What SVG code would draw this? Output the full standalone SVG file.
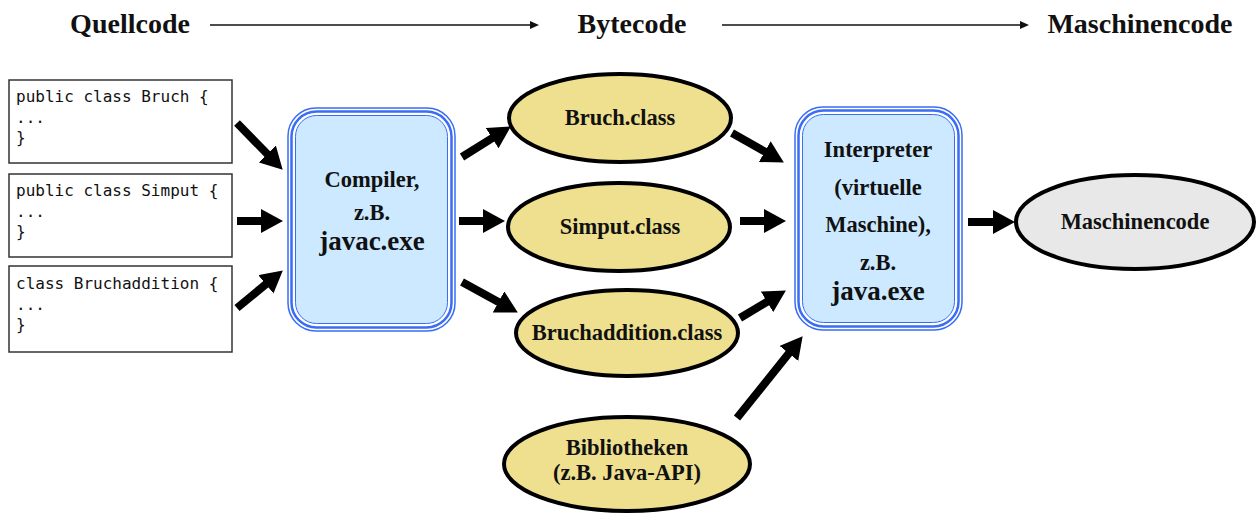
<svg xmlns="http://www.w3.org/2000/svg" width="1258" height="518" viewBox="0 0 1258 518">
<style>
.title{font-family:"Liberation Serif","Times New Roman",serif;font-weight:bold;font-size:28px;fill:#111;text-anchor:middle}
.lbl{font-family:"Liberation Serif","Times New Roman",serif;font-weight:bold;font-size:22.5px;fill:#111;text-anchor:middle}
.big{font-size:27px}
.code{font-family:"DejaVu Sans Mono","Liberation Mono",monospace;font-size:16px;fill:#111}
.cbox{fill:#fff;stroke:#333;stroke-width:1.5}
.ell{fill:#eee08f;stroke:#000;stroke-width:4}
.b1{fill:#fff;stroke:#3a6cf4;stroke-width:1.5}
.b2{fill:#fff;stroke:#3a6cf4;stroke-width:2.5}
.b3{fill:#cce9ff;stroke:#3a6cf4;stroke-width:1}
.arr{stroke:#000;stroke-width:8;fill:none;marker-end:url(#head)}
.thin{stroke:#111;stroke-width:1.4;fill:none;marker-end:url(#small)}
</style>
<defs>
<marker id="head" markerUnits="userSpaceOnUse" markerWidth="22" markerHeight="24" viewBox="0 0 22 24" refX="1" refY="12" orient="auto">
<path d="M0,0 L22,12 L0,24 z" fill="#000"/>
</marker>
<marker id="small" markerUnits="userSpaceOnUse" markerWidth="9" markerHeight="8" viewBox="0 0 9 8" refX="1" refY="4" orient="auto">
<path d="M0,0 L9,4 L0,8 z" fill="#111"/>
</marker>
</defs>

<g id="header">
<text class="title" x="130" y="33">Quellcode</text>
<text class="title" x="632" y="33">Bytecode</text>
<text class="title" x="1140" y="33">Maschinencode</text>
</g>

<g id="connectors">
<line class="thin" x1="210" y1="25" x2="531" y2="25"/>
<line class="thin" x1="722" y1="25" x2="1021" y2="25"/>
<line class="arr" x1="237" y1="123" x2="268" y2="154.7"/>
<line class="arr" x1="237" y1="221" x2="262" y2="221"/>
<line class="arr" x1="237" y1="308" x2="266.6" y2="283.7"/>
<line class="arr" x1="462" y1="157" x2="493" y2="137.6"/>
<line class="arr" x1="459" y1="221" x2="484" y2="221"/>
<line class="arr" x1="462" y1="282" x2="499.4" y2="302.4"/>
<line class="arr" x1="732" y1="133" x2="765.6" y2="152.1"/>
<line class="arr" x1="740" y1="221" x2="765" y2="221"/>
<line class="arr" x1="740" y1="318" x2="767.9" y2="301.3"/>
<line class="arr" x1="737" y1="418" x2="789.5" y2="352.6"/>
<line class="arr" x1="968" y1="222" x2="994" y2="222"/>
</g>

<g id="src-bruch">
<rect class="cbox" x="9" y="80" width="223" height="83"/>
<text class="code" x="16" y="102">public class Bruch {</text>
<text class="code" x="16" y="123">...</text>
<text class="code" x="16" y="143">}</text>
</g>
<g id="src-simput">
<rect class="cbox" x="9" y="174" width="223" height="83"/>
<text class="code" x="16" y="196">public class Simput {</text>
<text class="code" x="16" y="217">...</text>
<text class="code" x="16" y="237">}</text>
</g>
<g id="src-bruchaddition">
<rect class="cbox" x="9" y="266" width="223" height="86"/>
<text class="code" x="16" y="289">class Bruchaddition {</text>
<text class="code" x="16" y="310">...</text>
<text class="code" x="16" y="330">}</text>
</g>

<g id="compiler">
<rect class="b1" x="288" y="108" width="167" height="223" rx="28"/>
<rect class="b2" x="291.5" y="111.5" width="160" height="216" rx="25"/>
<rect class="b3" x="295.5" y="115.5" width="152" height="208" rx="21"/>
<text class="lbl" x="372" y="187">Compiler,</text>
<text class="lbl" x="372" y="220">z.B.</text>
<text class="lbl big" x="372" y="250">javac.exe</text>
</g>

<g id="bruch-class">
<ellipse class="ell" cx="620" cy="118" rx="111" ry="44"/>
<text class="lbl" x="620" y="125">Bruch.class</text>
</g>
<g id="simput-class">
<ellipse class="ell" cx="619" cy="227" rx="111" ry="44"/>
<text class="lbl" x="620" y="234">Simput.class</text>
</g>
<g id="bruchaddition-class">
<ellipse class="ell" cx="627" cy="333" rx="111" ry="43"/>
<text class="lbl" x="627" y="340">Bruchaddition.class</text>
</g>
<g id="bibliotheken">
<ellipse class="ell" cx="627" cy="464" rx="123" ry="47"/>
<text class="lbl" x="627" y="455">Bibliotheken</text>
<text class="lbl" x="627" y="480">(z.B. Java-API)</text>
</g>

<g id="interpreter">
<rect class="b1" x="795" y="107" width="167" height="223" rx="28"/>
<rect class="b2" x="798.5" y="110.5" width="160" height="216" rx="25"/>
<rect class="b3" x="802.5" y="114.5" width="152" height="208" rx="21"/>
<text class="lbl" x="878" y="157">Interpreter</text>
<text class="lbl" x="878" y="195">(virtuelle</text>
<text class="lbl" x="878" y="232">Maschine),</text>
<text class="lbl" x="878" y="270">z.B.</text>
<text class="lbl big" x="878" y="300">java.exe</text>
</g>

<g id="maschinencode">
<ellipse cx="1135" cy="222" rx="119" ry="47" fill="#e8e8e8" stroke="#000" stroke-width="4"/>
<text class="lbl" x="1135" y="229">Maschinencode</text>
</g>
</svg>
